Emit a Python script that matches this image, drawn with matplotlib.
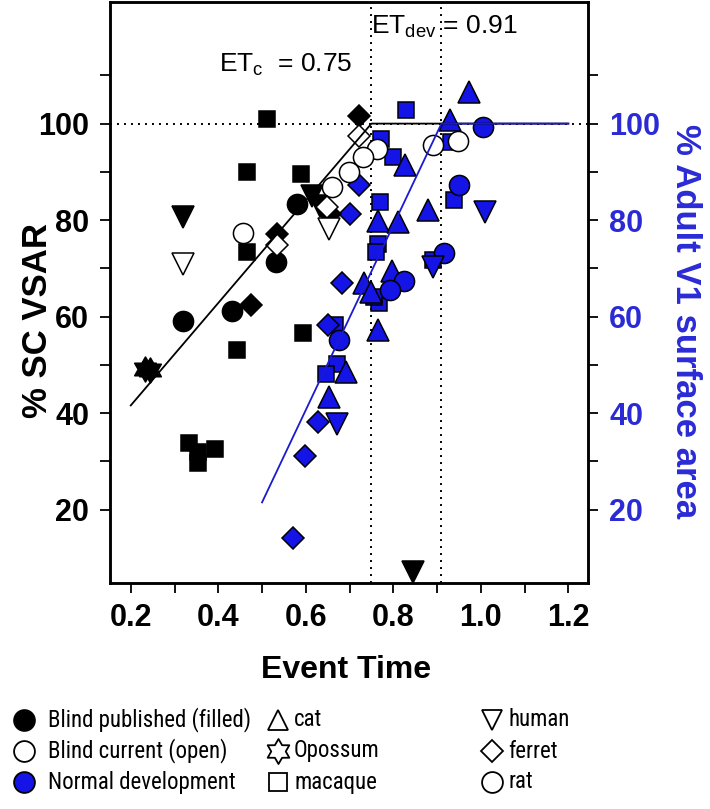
import matplotlib
matplotlib.use('Agg')
import matplotlib.pyplot as plt
from matplotlib import font_manager
from matplotlib.font_manager import FontProperties
from matplotlib.lines import Line2D
from matplotlib.path import Path
import numpy as np

# ---------------- data (Event Time, percent) ----------------
# Blind published (filled black)
pub_macaque_x = [0.511, 0.465, 0.589, 0.465, 0.443, 0.593, 0.334, 0.354, 0.354, 0.392]
pub_macaque_y = [101.0, 90.0, 89.5, 73.4, 53.1, 56.7, 33.8, 31.9, 29.6, 32.6]
pub_ferret_x = [0.722, 0.535, 0.474, 0.655]
pub_ferret_y = [101.5, 77.2, 62.5, 81.3]
pub_rat_x = [0.579, 0.533, 0.320, 0.431]
pub_rat_y = [83.3, 71.3, 59.1, 61.1]
pub_human_x = [0.319, 0.615, 0.632, 0.846]
pub_human_y = [80.6, 85.0, 83.0, 7.0]
pub_opossum_x = [0.232, 0.243]
pub_opossum_y = [49.2, 49.0]

# Blind current (open)
cur_rat_x = [0.762, 0.730, 0.698, 0.661, 0.890, 0.949, 0.457]
cur_rat_y = [94.8, 93.1, 90.0, 86.9, 95.6, 96.3, 77.3]
cur_ferret_x = [0.722, 0.535, 0.648]
cur_ferret_y = [97.4, 74.8, 82.7]
cur_human_x = [0.319, 0.654]
cur_human_y = [71.0, 78.2]

# Normal development (blue)
nor_macaque_x = [0.773, 0.829, 0.800, 0.933, 0.939, 0.769, 0.766, 0.761, 0.890,
                 0.768, 0.757, 0.667, 0.671, 0.646]
nor_macaque_y = [96.9, 102.9, 93.1, 96.2, 84.2, 83.7, 75.1, 73.4, 71.7,
                 62.8, 64.0, 58.2, 50.2, 48.2]
nor_cat_x = [0.827, 0.930, 0.973, 0.880, 0.766, 0.811, 0.796, 0.733, 0.748,
             0.766, 0.693, 0.654]
nor_cat_y = [91.4, 100.8, 106.6, 82.0, 79.9, 79.6, 69.4, 67.0, 65.2,
             57.3, 48.5, 43.3]
nor_rat_x = [1.006, 0.951, 0.916, 0.824, 0.792, 0.677]
nor_rat_y = [99.3, 87.2, 73.2, 67.4, 65.6, 55.1]
nor_ferret_x = [0.722, 0.701, 0.682, 0.651, 0.629, 0.598, 0.571]
nor_ferret_y = [87.3, 81.2, 67.0, 58.2, 38.1, 31.1, 14.2]
nor_human_x = [1.010, 0.891, 0.672]
nor_human_y = [81.7, 70.3, 37.8]

# fitted lines
fit_blind_x = [0.20, 0.75, 1.20]
fit_blind_y = [41.6, 100.0, 100.0]
fit_norm_x = [0.50, 0.91, 1.20]
fit_norm_y = [21.5, 100.0, 100.0]
et_values = [0.75, 0.91]

x_ticks = [0.2, 0.4, 0.6, 0.8, 1.0, 1.2]
x_tick_labels = ['0.2', '0.4', '0.6', '0.8', '1.0', '1.2']
y_ticks = [20, 40, 60, 80, 100]

# ---------------- fonts ----------------
def font_path(name, stretch='normal'):
    try:
        return font_manager.findfont(FontProperties(family=name, stretch=stretch),
                                     fallback_to_default=False)
    except Exception:
        return None

BASE = 'Liberation Sans' if font_path('Liberation Sans') else 'DejaVu Sans'
NARROW = None
for cand, st in [('Liberation Sans Narrow', 'normal'), ('Arial Narrow', 'normal'),
                 ('Roboto Condensed', 'normal'), ('Open Sans Condensed', 'normal'),
                 ('Noto Sans', 'condensed'), ('Open Sans', 'condensed')]:
    p = font_path(cand, st)
    if p and ('arrow' in p or 'ondensed' in p):
        NARROW = (cand, st)
        break

plt.rcParams['font.family'] = [BASE, 'DejaVu Sans']
plt.rcParams['mathtext.fontset'] = 'custom'
plt.rcParams['mathtext.rm'] = BASE
plt.rcParams['mathtext.it'] = BASE + ':italic'
plt.rcParams['mathtext.bf'] = BASE + ':bold'

BLUE = '#1414e6'
BLUE_LINE = '#1a1ad0'
BLUE_TXT = '#2b2bd6'

W, H = 710, 809
fig = plt.figure(figsize=(W / 100, H / 100), dpi=100)
L, R, B, T = 110, 588.3, 582.5, 2.0
ax = fig.add_axes([L / W, 1 - B / H, (R - L) / W, (B - T) / H])
ax.set_xlim(0.1525, 1.2457)
ax.set_ylim(4.9, 125.2)

hexagram = Path.unit_regular_star(6, 0.58)

MS = {'s': 11.5, 'D': 11.5, 'o': 14.5, 'v': 16, '^': 16, 'star': 18}

def pts(x, y, marker, face, z):
    m = hexagram if marker == 'star' else marker
    ax.plot(x, y, linestyle='none', marker=m, markersize=MS[marker],
            markerfacecolor=face, markeredgecolor='black', markeredgewidth=1.1,
            zorder=z, clip_on=False)

# normal development (bottom)
pts(nor_macaque_x, nor_macaque_y, 's', BLUE, 3)
pts(nor_ferret_x, nor_ferret_y, 'D', BLUE, 3)
pts(nor_cat_x, nor_cat_y, '^', BLUE, 3)
pts(nor_rat_x, nor_rat_y, 'o', BLUE, 3)
pts(nor_human_x, nor_human_y, 'v', BLUE, 3)
# blind published
pts(pub_macaque_x, pub_macaque_y, 's', 'black', 4)
pts(pub_ferret_x, pub_ferret_y, 'D', 'black', 4)
pts(pub_rat_x, pub_rat_y, 'o', 'black', 4)
pts(pub_human_x, pub_human_y, 'v', 'black', 4)
pts(pub_opossum_x, pub_opossum_y, 'star', 'black', 4)
# blind current
pts(cur_rat_x, cur_rat_y, 'o', 'white', 5)
pts(cur_ferret_x, cur_ferret_y, 'D', 'white', 5)
pts(cur_human_x, cur_human_y, 'v', 'white', 5)

# reference lines
dots = (0, (1, 2.6))
ax.axhline(100, color='black', lw=1.4, linestyle=dots, zorder=2)
for v in et_values:
    ax.axvline(v, color='black', lw=1.4, linestyle=dots, zorder=2)

ax.plot(fit_blind_x, fit_blind_y, color='black', lw=1.3, zorder=6)
ax.plot(fit_norm_x, fit_norm_y, color=BLUE_LINE, lw=1.3, zorder=6)

ax.text(0.4016, 110.7, r'ET$_{\rm c}$  = 0.75', fontsize=19, va='baseline', ha='left')
ax.text(0.748, 118.7, r'ET$_{\rm dev}$ = 0.91', fontsize=19, va='baseline', ha='left')

# axes styling
for s in ax.spines.values():
    s.set_linewidth(1.8)
ax.set_xticks(x_ticks)
ax.set_xticklabels(x_tick_labels)
ax.set_xticks(np.arange(0.3, 1.21, 0.2), minor=True)
ax.set_yticks(y_ticks)
ax.set_yticks(np.arange(30, 111, 20), minor=True)
ax.tick_params(axis='both', which='both', direction='out', length=7, width=1.3)
ax.tick_params(axis='x', which='major', labelsize=22, pad=8)
ax.tick_params(axis='y', which='major', labelsize=22, pad=8)
for lab in ax.get_xticklabels() + ax.get_yticklabels():
    lab.set_fontweight('bold')

ax2 = ax.twinx()
ax2.set_ylim(ax.get_ylim())
ax2.set_yticks(y_ticks)
ax2.set_yticks(np.arange(30, 111, 20), minor=True)
ax2.tick_params(axis='y', which='both', direction='out', length=7, width=1.3)
ax2.tick_params(axis='y', which='major', labelsize=22, pad=8, labelcolor=BLUE_TXT)
for lab in ax2.get_yticklabels():
    lab.set_fontweight('bold')
for s in ax2.spines.values():
    s.set_linewidth(1.8)

# axis titles
fig.text(346.5 / W, 1 - 670 / H, 'Event Time', fontsize=23, fontweight='bold',
         ha='center', va='center')
fig.text(38 / W, 1 - 320 / H, '% SC VSAR', fontsize=25, fontweight='bold',
         ha='center', va='center', rotation=90)
fig.text(685 / W, 1 - 321 / H, '% Adult V1 surface area', fontsize=25, fontweight='bold',
         ha='center', va='center', rotation=270, color=BLUE_TXT)

# legend (manual, three columns)
leg_rows = [720, 751, 782]
leg_cols = [
    (24, 48, [('Blind published (filled)', 'o', 'black'),
              ('Blind current (open)', 'o', 'white'),
              ('Normal development', 'o', BLUE)]),
    (278, 294, [('cat', '^', 'white'), ('Opossum', 'star', 'white'), ('macaque', 's', 'white')]),
    (492, 508, [('human', 'v', 'white'), ('ferret', 'D', 'white'), ('rat', 'o', 'white')]),
]
leg_ms = {'o': 15, '^': 15, 'v': 15, 's': 13, 'D': 11, 'star': 18}
if NARROW:
    leg_font = dict(family=[NARROW[0], BASE], fontstretch=NARROW[1], fontsize=16.5)
else:
    leg_font = dict(fontsize=15)
for mx, tx, entries in leg_cols:
    for yy, (label, mk, face) in zip(leg_rows, entries):
        m = hexagram if mk == 'star' else mk
        fig.add_artist(Line2D([mx / W], [1 - yy / H], transform=fig.transFigure,
                              linestyle='none', marker=m, markersize=leg_ms[mk],
                              markerfacecolor=face, markeredgecolor='black',
                              markeredgewidth=1.3))
        fig.text(tx / W, 1 - yy / H, label, ha='left', va='center', **leg_font)

fig.savefig('out.png', dpi=100)
